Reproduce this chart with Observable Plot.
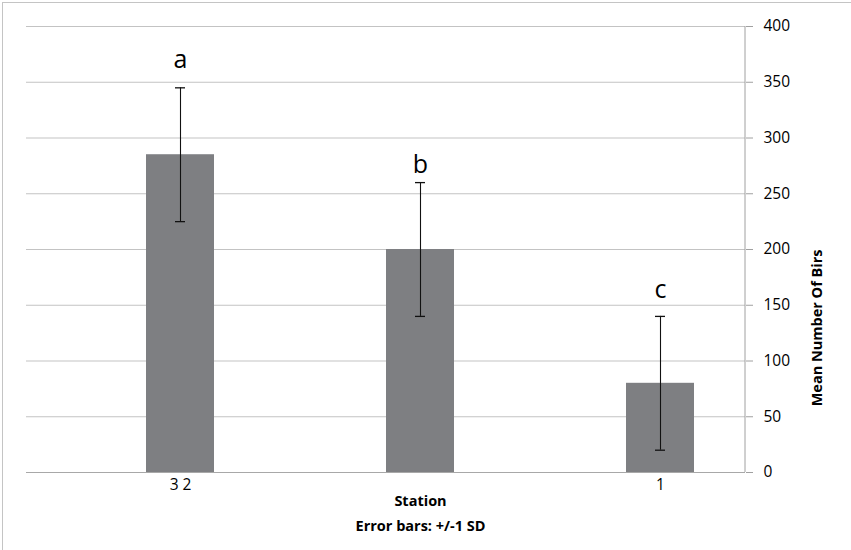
<!DOCTYPE html>
<html><head><meta charset="utf-8">
<script src="https://cdn.jsdelivr.net/npm/d3@7"></script>
<script src="https://cdn.jsdelivr.net/npm/@observablehq/plot@0.6"></script>
<style>
body{margin:0;background:#fff;}
#wrap{position:relative;width:851px;height:550px;overflow:hidden;}
#border{position:absolute;left:2px;top:2px;width:900px;height:600px;border:1.5px solid #c4c4c4;box-sizing:border-box;}
#chart{position:absolute;left:0;top:0;}
</style></head><body>
<div id="wrap"><div id="border"></div><div id="chart"></div></div>
<script>
const stations = ["3", "2", "1"];
const tickLabels = ["3 2", "", "1"];
const means = [285, 200, 80];
const sds = [60, 60, 60];
const letters = ["a", "b", "c"];
const letterY = [370, 276, 164];
const yTicks = [0, 50, 100, 150, 200, 250, 300, 350, 400];
const xTitle = "Station";
const xSubtitle = "Error bars: +/-1 SD";
const yTitle = "Mean Number Of Birs";

const data = stations.map((s, i) => ({station: s, mean: means[i], sd: sds[i], letter: letters[i], ly: letterY[i]}));

const W = 851, H = 550, mL = 26, mR = 106, mT = 26, mB = 78;
const font = "'Open Sans', sans-serif";

const plot = Plot.plot({
  width: W, height: H,
  marginLeft: mL, marginRight: mR, marginTop: mT, marginBottom: mB,
  style: {fontFamily: font, background: "transparent", overflow: "visible"},
  x: {type: "band", domain: stations, range: [60, 780], paddingInner: 0.7167, paddingOuter: 0.3583},
  y: {domain: [0, 400]},
  marks: [
    Plot.ruleY(yTicks, {stroke: "#c3c3c3", strokeWidth: 1}),
    Plot.barY(data, {x: "station", y: "mean", fill: "#7e7f82"}),
    Plot.ruleY([0], {stroke: "#a8a8a8", strokeWidth: 1}),
    Plot.ruleX(data, {x: "station", y1: d => d.mean - d.sd, y2: d => d.mean + d.sd, stroke: "#111", strokeWidth: 1.1}),
    Plot.tickY(data, {x: "station", y: d => d.mean - d.sd, insetLeft: 29, insetRight: 29, stroke: "#111", strokeWidth: 1.3}),
    Plot.tickY(data, {x: "station", y: d => d.mean + d.sd, insetLeft: 29, insetRight: 29, stroke: "#111", strokeWidth: 1.3}),
    Plot.text(data, {x: "station", y: "ly", text: "letter", fontSize: 25, fill: "#000"}),
    Plot.axisY({anchor: "right", ticks: yTicks, tickSize: 7, tickPadding: 11, stroke: "#a0a0a0", fontSize: 15.5, fill: "#000", label: null}),
    Plot.axisX({anchor: "bottom", tickSize: 0, tickPadding: 6, tickFormat: (d) => tickLabels[stations.indexOf(d)], fontSize: 15.5, fill: "#000", label: null}),
    Plot.text([xTitle], {x: () => stations[1], frameAnchor: "bottom", dy: 33, fontSize: 14.5, fontWeight: "bold", fill: "#000"}),
    Plot.text([xSubtitle], {x: () => stations[1], frameAnchor: "bottom", dy: 58, fontSize: 14.5, fontWeight: "bold", fill: "#000"}),
    Plot.text([yTitle], {frameAnchor: "right", dx: 72, rotate: -90, fontSize: 14.5, fontWeight: "bold", fill: "#000"})
  ]
});

// vertical axis line on the right edge of the frame
const ys = plot.scale("y");
d3.select(plot).append("line")
  .attr("x1", W - mR).attr("x2", W - mR)
  .attr("y1", ys.apply(0)).attr("y2", ys.apply(400))
  .attr("stroke", "#a0a0a0").attr("stroke-width", 1);

document.getElementById("chart").appendChild(plot);
</script>
</body></html>
